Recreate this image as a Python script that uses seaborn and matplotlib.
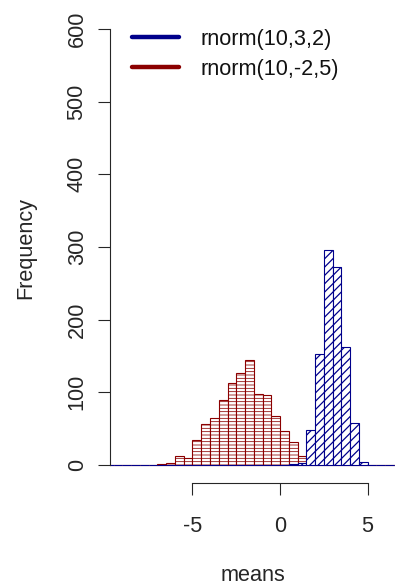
import numpy as np
import pandas as pd
import matplotlib
matplotlib.use("Agg")
import matplotlib.pyplot as plt
import seaborn as sns
from matplotlib.lines import Line2D

# Histogram breaks: width 0.5, drawn over the full range of the plot
bin_width = 0.5
break_lo, break_hi = -10.0, 7.0

# Means of rnorm(10, -2, 5): left edge of each populated bin and its count
red_left = [-7.0, -6.5, -6.0, -5.5, -5.0, -4.5, -4.0, -3.5, -3.0,
            -2.5, -2.0, -1.5, -1.0, -0.5, 0.0, 0.5, 1.0, 1.5]
red_counts = [1, 3, 12, 9, 34, 57, 65, 89, 113,
              126, 145, 98, 96, 67, 47, 31, 13, 3]

# Means of rnorm(10, 3, 2)
blue_left = [0.5, 1.0, 1.5, 2.0, 2.5, 3.0, 3.5, 4.0, 4.5]
blue_counts = [1, 3, 48, 153, 296, 273, 163, 58, 4]

series_labels = ["rnorm(10,3,2)", "rnorm(10,-2,5)"]
x_ticks = [-5, 0, 5]
y_ticks = [0, 100, 200, 300, 400, 500, 600]

BLUE = "#00008B"
RED = "#8B0000"
AXIS = "#262626"

sns.set_style("white")
plt.rcParams["font.family"] = ["Liberation Sans", "DejaVu Sans"]
plt.rcParams["font.size"] = 15.6

fig = plt.figure(figsize=(3.95, 5.86), dpi=100)
ax = fig.add_axes([110 / 395, 1 - 483 / 586, 1 - 110 / 395, (483 - 13) / 586])

edges = np.arange(break_lo, break_hi + bin_width / 2, bin_width)


def hatched_hist(left, counts, color, hatch, hatch_lw):
    plt.rcParams["hatch.linewidth"] = hatch_lw
    df = pd.DataFrame({"mid": np.asarray(left, dtype=float) + bin_width / 2,
                       "n": np.asarray(counts, dtype=float)})
    n0 = len(ax.patches)
    sns.histplot(data=df, x="mid", weights="n", bins=list(edges),
                 ax=ax, stat="count", element="bars", fill=True,
                 color=color, linewidth=0.8)
    for p in ax.patches[n0:]:
        p.set_facecolor("white")
        p.set_edgecolor(color)
        p.set_linewidth(0.8)
        p.set_hatch(hatch)
        p.set_alpha(None)
        if hasattr(p, "set_hatch_linewidth"):
            p.set_hatch_linewidth(hatch_lw)


hatched_hist(red_left, red_counts, RED, "-----", 0.55)
hatched_hist(blue_left, blue_counts, BLUE, "////", 0.9)

ax.set_xlim(-9.714, 6.571)
ax.set_ylim(-24.8, 622)

for side in ["top", "right"]:
    ax.spines[side].set_visible(False)
ax.spines["left"].set_bounds(0, 600)
ax.spines["bottom"].set_bounds(-5, 5)
for side in ["left", "bottom"]:
    ax.spines[side].set_color(AXIS)
    ax.spines[side].set_linewidth(0.8)

ax.set_xticks(x_ticks)
ax.set_xticklabels([str(v) for v in x_ticks])
ax.set_yticks(y_ticks)
ax.set_yticklabels([str(v) for v in y_ticks], rotation=90, va="center")
ax.tick_params(axis="both", direction="out", length=8.6, width=0.8,
               color=AXIS, labelcolor=AXIS, left=True, bottom=True)
ax.tick_params(axis="x", pad=15)
ax.tick_params(axis="y", pad=7.5)

ax.set_xlabel("means", color=AXIS, labelpad=20)
ax.set_ylabel("Frequency", color=AXIS, labelpad=22)

handles = [Line2D([], [], color=BLUE, lw=3.2, solid_capstyle="round"),
           Line2D([], [], color=RED, lw=3.2, solid_capstyle="round")]
leg = ax.legend(handles, series_labels, loc="upper left",
                bbox_to_anchor=(0.076, 0.966), frameon=False,
                borderpad=0, borderaxespad=0, handlelength=2.2,
                handletextpad=1.0, labelspacing=0.42)
for t in leg.get_texts():
    t.set_color("#111111")

fig.savefig("out.png", dpi=100)
